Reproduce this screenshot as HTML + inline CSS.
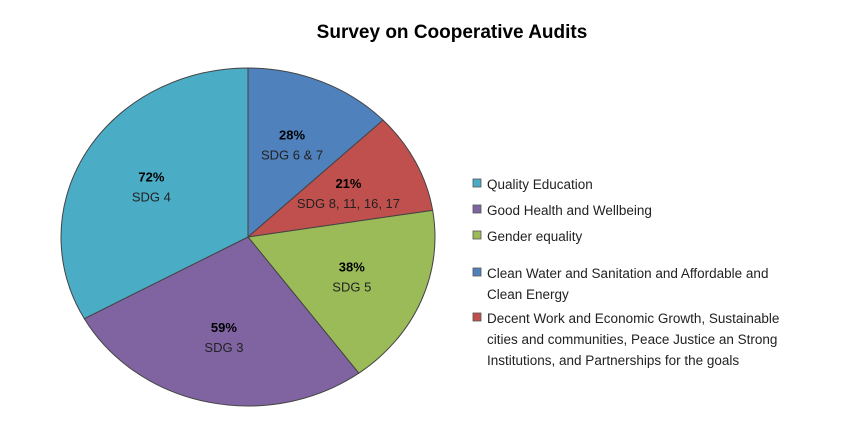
<!DOCTYPE html>
<html><head><meta charset="utf-8"><style>
body{margin:0;background:#fff;width:860px;height:416px;overflow:hidden;font-family:"Liberation Sans",sans-serif}
</style></head><body>
<svg id="chart" width="860" height="416" xmlns="http://www.w3.org/2000/svg">
<text x="452" y="38" text-anchor="middle" font-size="19" font-weight="bold" fill="#000">Survey on Cooperative Audits</text>
<g id="slices"></g><g id="labels"></g><g id="legend"></g>
</svg>
<script>
// clockwise from 12 o'clock
const sliceValues = [28, 21, 38, 59, 72];
const sliceSdg = ["SDG 6 & 7", "SDG 8, 11, 16, 17", "SDG 5", "SDG 3", "SDG 4"];
const sliceColors = ["#4f81bd", "#c0504d", "#9bbb59", "#8064a2", "#4bacc6"];
const legendLabels = [
  ["Quality Education"],
  ["Good Health and Wellbeing"],
  ["Gender equality"],
  ["Clean Water and Sanitation and Affordable and", "Clean Energy"],
  ["Decent Work and Economic Growth, Sustainable", "cities and communities, Peace Justice an Strong", "Institutions, and Partnerships for the goals"]
];
const legendColors = ["#4bacc6", "#8064a2", "#9bbb59", "#4f81bd", "#c0504d"];
const NS = "http://www.w3.org/2000/svg";
const cx = 248, cy = 237, rx = 187, ry = 169;
const total = sliceValues.reduce((a, b) => a + b, 0);
function pt(a, f) { return [cx + rx * f * Math.sin(a), cy - ry * f * Math.cos(a)]; }
let acc = 0;
const sg = document.getElementById('slices'), lg = document.getElementById('labels');
sliceValues.forEach((v, i) => {
  const a0 = acc / total * 2 * Math.PI; acc += v;
  const a1 = acc / total * 2 * Math.PI;
  const p0 = pt(a0, 1), p1 = pt(a1, 1);
  const large = (a1 - a0) > Math.PI ? 1 : 0;
  const p = document.createElementNS(NS, 'path');
  
  
  p.setAttribute('d', `M${cx},${cy} L${p0[0]},${p0[1]} A${rx},${ry} 0 ${large} 1 ${p1[0]},${p1[1]} Z`);
  p.setAttribute('fill', sliceColors[i]); p.setAttribute('stroke', '#444'); p.setAttribute('stroke-width', '1');
  sg.appendChild(p);
  const m = pt((a0 + a1) / 2, 0.6);
  const t1 = document.createElementNS(NS, 'text');
  
  
  t1.setAttribute('x', m[0]); t1.setAttribute('y', m[1] - 4);
  t1.setAttribute('text-anchor', 'middle'); t1.setAttribute('font-size', '13'); t1.setAttribute('font-weight', 'bold');
  t1.textContent = v + '%'; lg.appendChild(t1);
  const t2 = document.createElementNS(NS, 'text');
  
  
  t2.setAttribute('x', m[0]); t2.setAttribute('y', m[1] + 16);
  t2.setAttribute('text-anchor', 'middle'); t2.setAttribute('font-size', '13'); t2.setAttribute('fill', '#222');
  t2.textContent = sliceSdg[i]; lg.appendChild(t2);
});
const leg = document.getElementById('legend');
const legY = [184, 210, 236, 273, 318];
legendLabels.forEach((lines, i) => {
  const g = document.createElementNS(NS, 'g');
  
  
  const r = document.createElementNS(NS, 'rect');
  r.setAttribute('x', 473); r.setAttribute('y', legY[i] - 5); r.setAttribute('width', 8); r.setAttribute('height', 8);
  r.setAttribute('fill', legendColors[i]); r.setAttribute('stroke', '#555'); r.setAttribute('stroke-width', '0.8');
  g.appendChild(r);
  lines.forEach((ln, j) => {
    const t = document.createElementNS(NS, 'text');
    t.setAttribute('x', 487); t.setAttribute('y', legY[i] + 5 + j * 21);
    t.setAttribute('font-size', '13.5'); t.setAttribute('fill', '#222');
    t.textContent = ln; g.appendChild(t);
  });
  leg.appendChild(g);
});
</script>
</body></html>
